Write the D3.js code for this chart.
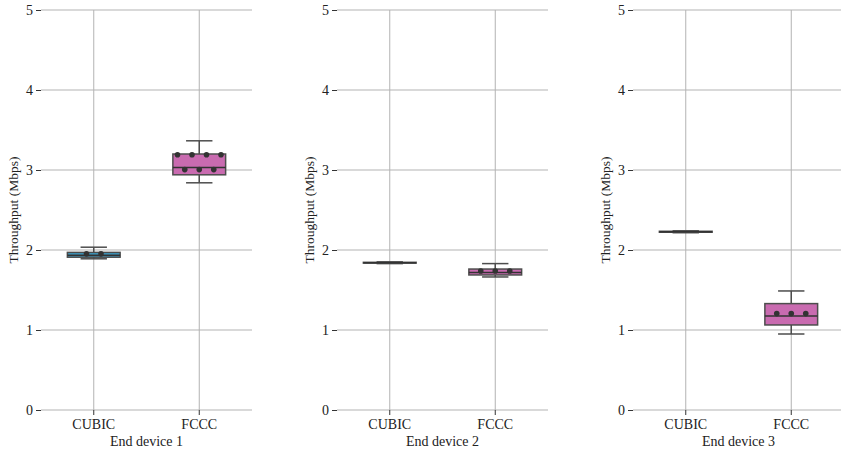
<!DOCTYPE html>
<html>
<head>
<meta charset="utf-8">
<script src="https://cdn.jsdelivr.net/npm/d3@7"></script>
<style>
  html, body { margin: 0; padding: 0; background: #fff; }
  svg { display: block; }
</style>
</head>
<body>
<svg id="chart" width="841" height="455"></svg>
<script>
// Throughput distributions per end device and congestion-control algorithm
const devices = ["End device 1", "End device 2", "End device 3"];
const algorithms = ["CUBIC", "FCCC"];
const yTicks = [0, 1, 2, 3, 4, 5];

// Box statistics, one entry per device: [whiskerLow, q1, median, q3, whiskerHigh]
const cubicStats = [
  [1.89, 1.91, 1.935, 1.97, 2.035],
  [1.83, 1.836, 1.841, 1.846, 1.852],
  [2.216, 2.222, 2.228, 2.234, 2.24]
];
const fcccStats = [
  [2.84, 2.94, 3.03, 3.20, 3.365],
  [1.663, 1.688, 1.72, 1.762, 1.83],
  [0.95, 1.063, 1.175, 1.33, 1.488]
];

// Individual run means shown as points over each box
const cubicPoints = [
  [1.952, 1.952],
  [],
  []
];
const fcccPoints = [
  [3.19, 3.19, 3.19, 3.19, 3.005, 3.005, 3.005],
  [1.738, 1.738, 1.738],
  [1.205, 1.205, 1.205]
];

const colors = { CUBIC: "#3d9bc3", FCCC: "#c96bb0" };
const FONT = "'Liberation Serif', 'Times New Roman', serif";

const svg = d3.select("#chart");
const panelLeft = [41, 337, 633];
const panelWidth = 211;
const plotTop = 10, plotBottom = 410;

const y = d3.scaleLinear().domain([0, 5]).range([plotBottom, plotTop]);

devices.forEach((dev, di) => {
  const x0 = panelLeft[di];
  const x = d3.scaleBand().domain(algorithms).range([x0, x0 + panelWidth]).paddingInner(0.5).paddingOuter(0.25);
  const g = svg.append("g").attr("font-family", FONT);

  // horizontal grid
  g.selectAll("line.hgrid").data(yTicks).join("line")
    .attr("class", "hgrid")
    .attr("x1", x0).attr("x2", x0 + panelWidth)
    .attr("y1", d => y(d)).attr("y2", d => y(d))
    .attr("stroke", "#b3b3b3").attr("stroke-width", 1);

  // vertical grid at categories
  g.selectAll("line.vgrid").data(algorithms).join("line")
    .attr("class", "vgrid")
    .attr("x1", d => x(d) + x.bandwidth() / 2).attr("x2", d => x(d) + x.bandwidth() / 2)
    .attr("y1", plotTop).attr("y2", plotBottom)
    .attr("stroke", "#b3b3b3").attr("stroke-width", 1);

  // y axis (no domain line)
  const yAxis = g.append("g").attr("transform", `translate(${x0},0)`)
    .call(d3.axisLeft(y).tickValues(yTicks).tickFormat(d3.format("d")).tickSize(5).tickPadding(3));
  yAxis.attr("font-family", FONT);
  yAxis.select(".domain").remove();
  yAxis.selectAll(".tick line").attr("stroke", "#333");
  yAxis.selectAll("text").attr("font-size", 14).attr("fill", "#222");

  // x axis
  const xAxis = g.append("g").attr("transform", `translate(0,${plotBottom})`)
    .call(d3.axisBottom(x).tickSize(5).tickPadding(4));
  xAxis.attr("font-family", FONT);
  xAxis.select(".domain").remove();
  xAxis.selectAll(".tick line").attr("stroke", "#333");
  xAxis.selectAll("text").attr("font-size", 14).attr("fill", "#222");

  // axis titles
  g.append("text")
    .attr("x", x0 + panelWidth / 2).attr("y", 446)
    .attr("text-anchor", "middle").attr("font-size", 14)
    .attr("fill", "#222")
    .text(dev);
  g.append("text")
    .attr("transform", `translate(${x0 - 23},${(plotTop + plotBottom) / 2}) rotate(-90)`)
    .attr("text-anchor", "middle").attr("font-size", 13.5)
    .attr("fill", "#222")
    .text("Throughput (Mbps)");

  // boxes
  const groups = [
    { alg: "CUBIC", s: cubicStats[di], pts: cubicPoints[di] },
    { alg: "FCCC", s: fcccStats[di], pts: fcccPoints[di] }
  ];
  groups.forEach(({ alg, s, pts }) => {
    const bx = x(alg), bw = x.bandwidth(), cx = bx + bw / 2;
    const [wl, q1, med, q3, wh] = s;
    const stroke = "#4d4d4d";
    const bg = g.append("g");
    // whiskers
    bg.append("line").attr("x1", cx).attr("x2", cx).attr("y1", y(q3)).attr("y2", y(wh))
      .attr("stroke", stroke).attr("stroke-width", 1.5);
    bg.append("line").attr("x1", cx).attr("x2", cx).attr("y1", y(q1)).attr("y2", y(wl))
      .attr("stroke", stroke).attr("stroke-width", 1.5);
    bg.append("line").attr("x1", cx - bw / 4).attr("x2", cx + bw / 4).attr("y1", y(wh)).attr("y2", y(wh))
      .attr("stroke", stroke).attr("stroke-width", 1.5);
    bg.append("line").attr("x1", cx - bw / 4).attr("x2", cx + bw / 4).attr("y1", y(wl)).attr("y2", y(wl))
      .attr("stroke", stroke).attr("stroke-width", 1.5);
    // box
    bg.append("rect").attr("x", bx).attr("width", bw)
      .attr("y", y(q3)).attr("height", Math.max(0.5, y(q1) - y(q3)))
      .attr("fill", colors[alg]).attr("stroke", stroke).attr("stroke-width", 1.5);
    // median
    bg.append("line").attr("x1", bx).attr("x2", bx + bw).attr("y1", y(med)).attr("y2", y(med))
      .attr("stroke", "#333").attr("stroke-width", 1.5);

    // points: equal values spread side by side
    const rows = d3.groups(pts, v => v);
    const spacing = 14.5;
    rows.forEach(([val, arr]) => {
      arr.forEach((v, i) => {
        bg.append("circle")
          .attr("cx", cx + (i - (arr.length - 1) / 2) * spacing)
          .attr("cy", y(v)).attr("r", 2.8)
          .attr("fill", "#333");
      });
    });
  });
});
</script>
</body>
</html>
